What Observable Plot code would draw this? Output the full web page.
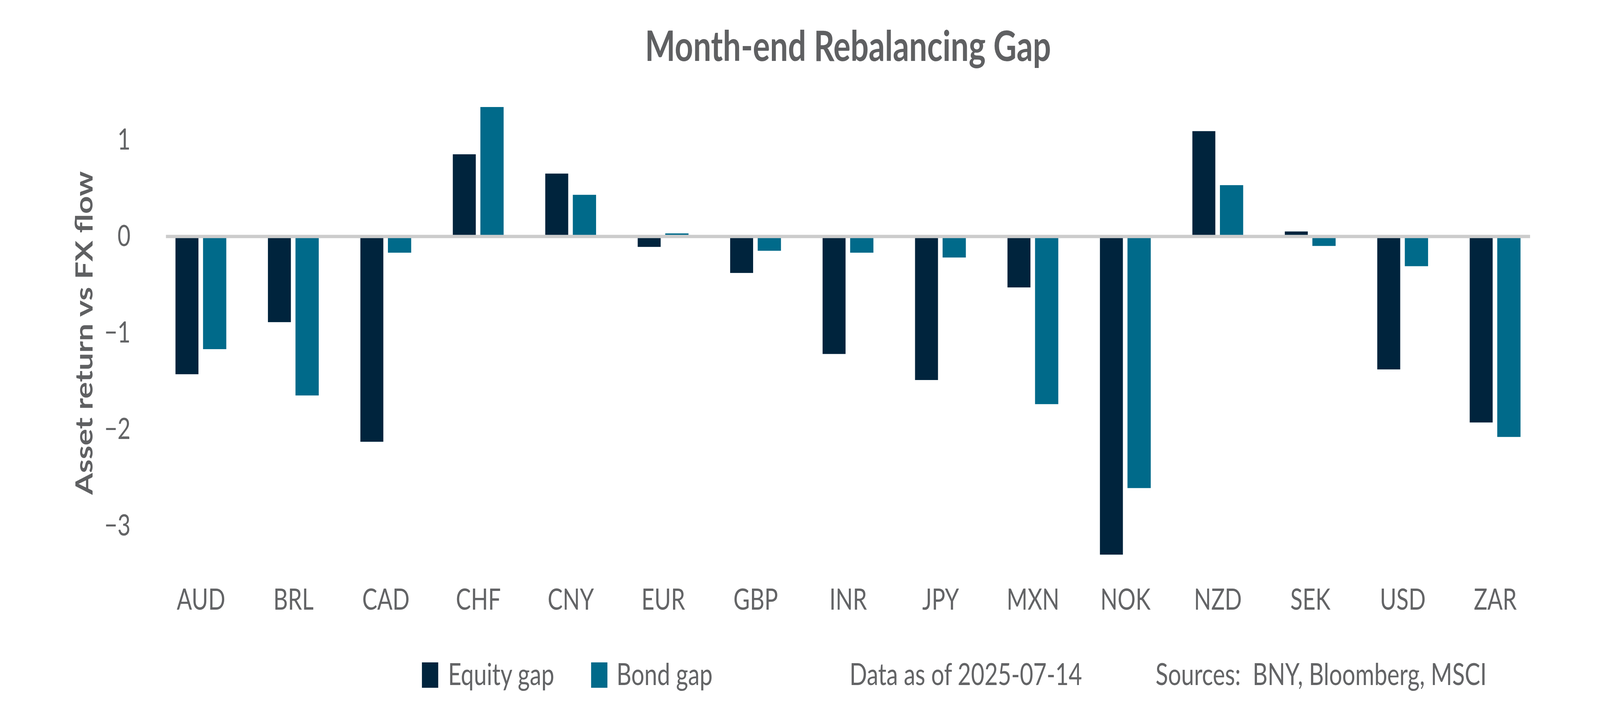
<!DOCTYPE html>
<html>
<head>
<meta charset="utf-8">
<script src="https://cdn.jsdelivr.net/npm/d3@7"></script>
<script src="https://cdn.jsdelivr.net/npm/@observablehq/plot@0.6"></script>
<style>
html, body { margin: 0; padding: 0; background: #ffffff; overflow: hidden; }
#page { position: absolute; left: 0; top: 0; width: 5400px; height: 1800px; font-family: Lato, "Open Sans", sans-serif; color: #636466; overflow: hidden; transform-origin: 0 0; background: #ffffff; }
#title { position: absolute; left: 560px; width: 4604px; top: 60px; text-align: center; font-size: 108px; line-height: 108px; font-weight: 700; color: #5f6062; white-space: nowrap; }
#chart { position: absolute; left: 0; top: 200px; }
#legend { position: absolute; left: 0; top: 1620px; width: 5400px; height: 180px; }
.sw { position: absolute; top: 76px; width: 55px; height: 65px; }
.lt { position: absolute; top: 65px; font-size: 78px; line-height: 78px; white-space: pre; color: #636466; }
[aria-label="y-axis label"] { font-weight: 700; }
</style>
</head>
<body>
<div id="page">
  <div id="title"></div>
  <div id="chart"></div>
  <div id="legend"></div>
</div>
<script>
// ---- data ----
const currencies = ["AUD", "BRL", "CAD", "CHF", "CNY", "EUR", "GBP", "INR", "JPY", "MXN", "NOK", "NZD", "SEK", "USD", "ZAR"];
const equityGap = [-1.43, -0.89, -2.13, 0.85, 0.65, -0.11, -0.38, -1.22, -1.49, -0.53, -3.30, 1.09, 0.05, -1.38, -1.93];
const bondGap   = [-1.17, -1.65, -0.17, 1.34, 0.43, 0.03, -0.15, -0.17, -0.22, -1.74, -2.61, 0.53, -0.10, -0.31, -2.08];
const seriesNames = ["Equity gap", "Bond gap"];
const seriesColors = ["#00243d", "#006a8a"];
const yTicks = [1, 0, -1, -2, -3];
const yDomain = [-3.5, 1.5];
const titleText = "Month-end Rebalancing Gap";
const yLabel = "Asset return vs FX flow";
const dateNote = "Data as of 2025-07-14";
const sourceNote = "Sources:  BNY, Bloomberg, MSCI";

const rows = currencies.map((c, i) => ({currency: c, equity: equityGap[i], bond: bondGap[i]}));

document.getElementById("title").textContent = titleText;

const chart = Plot.plot({
  width: 5400,
  height: 1420,
  marginLeft: 560,
  marginRight: 236,
  marginTop: 34.5,
  marginBottom: 150.5,
  style: {fontFamily: "Lato, 'Open Sans', sans-serif", fontSize: "76px", color: "#636466", background: "#ffffff", overflow: "visible"},
  x: {domain: currencies, range: [517.75, 5205.25], padding: 0},
  y: {domain: yDomain},
  marks: [
    Plot.barY(rows, {x: "currency", y: "equity", fill: seriesColors[0], insetLeft: 70.25, insetRight: 164.25}),
    Plot.barY(rows, {x: "currency", y: "bond", fill: seriesColors[1], insetLeft: 163.25, insetRight: 70.25}),
    Plot.ruleY([0], {stroke: "#cccccc", strokeWidth: 8.6}),
    Plot.axisX({tickSize: 0, tickPadding: 37.5, label: null, fontSize: 76, fill: "#636466"}),
    Plot.axisY({ticks: yTicks, tickFormat: d3.format("d"), tickSize: 0, tickPadding: 120, fontSize: 76, fill: "#636466", label: null}),
    Plot.axisY({ticks: [], tickSize: 0, fontSize: 80, fill: "#5f6062",
                label: yLabel, labelAnchor: "center", labelOffset: 305, labelArrow: "none"})
  ]
});
document.getElementById("chart").appendChild(chart);

// legend + notes below the chart
const legend = document.getElementById("legend");
const swatchLeft = [1424, 1994.5];
const textLeft = [1512, 2080.6];
seriesNames.forEach((name, i) => {
  const sw = document.createElement("div");
  sw.className = "sw";
  sw.style.left = swatchLeft[i] + "px";
  sw.style.background = seriesColors[i];
  legend.appendChild(sw);
  const t = document.createElement("div");
  t.className = "lt";
  t.style.left = textLeft[i] + "px";
  t.textContent = name;
  legend.appendChild(t);
});
const d = document.createElement("div");
d.className = "lt"; d.style.left = "2867px"; d.textContent = dateNote;
legend.appendChild(d);
const s = document.createElement("div");
s.className = "lt"; s.style.left = "3900px"; s.textContent = sourceNote;
legend.appendChild(s);

// the 5400x1800 design is fitted to the actual window (which may be narrower)
const vw = window.innerWidth || document.documentElement.clientWidth || 5400;
const vh = window.innerHeight || document.documentElement.clientHeight || 1800;
const kx = vw / 5400, ky = vh / 1800;
if (Math.abs(kx - 1) > 0.001 || Math.abs(ky - 1) > 0.001) {
  document.getElementById("page").style.transform = "scale(" + kx + "," + ky + ")";
}
</script>
</body>
</html>
